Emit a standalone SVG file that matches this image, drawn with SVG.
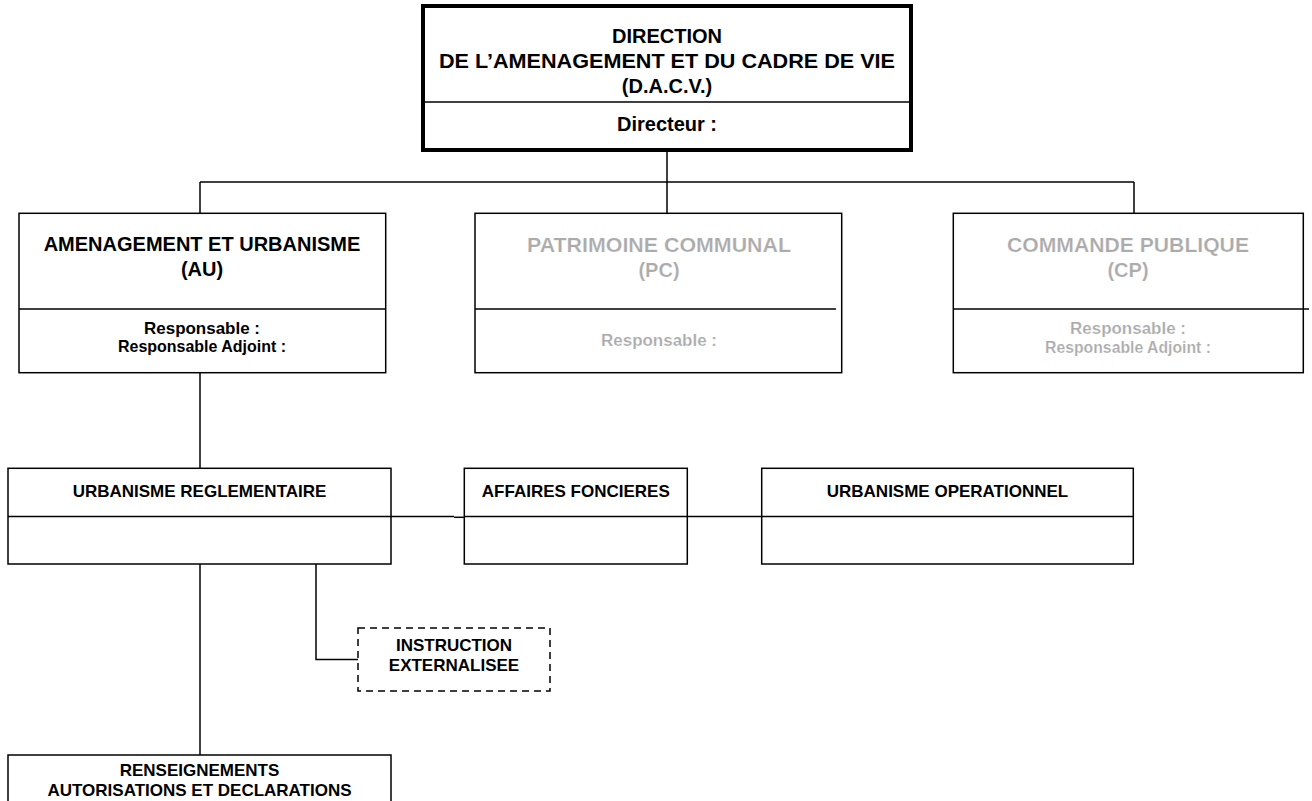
<svg xmlns="http://www.w3.org/2000/svg" width="1312" height="801" viewBox="0 0 1312 801">
<style>
  .box{fill:#fff;stroke:#000;stroke-width:1.5}
  .thick{fill:#fff;stroke:#000;stroke-width:4}
  .dash{fill:#fff;stroke:#000;stroke-width:1.5;stroke-dasharray:7 5}
  .ln{stroke:#000;stroke-width:1.5;fill:none}
  .t{font-family:"Liberation Sans",Arial,sans-serif;font-weight:bold;text-anchor:middle;fill:#000}
  .big{font-size:20px}
  .sm{font-size:16.5px}
  .mid{font-size:17px}
  .grey{fill:#ababab;stroke:#fff;stroke-width:0.2}
</style>
<rect width="1312" height="801" fill="#fff"/>
<g id="connectors">
  <line class="ln" x1="667" y1="150" x2="667" y2="213"/>
  <line class="ln" x1="200" y1="182" x2="1134" y2="182"/>
  <line class="ln" x1="200" y1="182" x2="200" y2="213"/>
  <line class="ln" x1="1134" y1="182" x2="1134" y2="213"/>
  <line class="ln" x1="200" y1="373" x2="200" y2="468"/>
  <line class="ln" x1="391" y1="516.5" x2="454" y2="516.5"/>
  <line class="ln" x1="454" y1="517.3" x2="464" y2="517.3"/>
  <line class="ln" x1="687" y1="516.5" x2="762" y2="516.5"/>
  <line class="ln" x1="200" y1="564" x2="200" y2="755"/>
  <polyline class="ln" points="316,564 316,659.5 358,659.5"/>
</g>
<g id="dacv">
  <rect class="thick" x="423" y="6" width="488" height="144"/>
  <line class="ln" x1="423" y1="102" x2="911" y2="102"/>
  <text class="t big" x="667" y="43">DIRECTION</text>
  <text class="t big" x="667" y="68" textLength="456" lengthAdjust="spacingAndGlyphs">DE L’AMENAGEMENT ET DU CADRE DE VIE</text>
  <text class="t big" x="667" y="93">(D.A.C.V.)</text>
  <text class="t big" x="667" y="130.5">Directeur :</text>
</g>
<g id="au">
  <rect class="box" x="19" y="213.3" width="366.7" height="159.4"/>
  <line class="ln" x1="19" y1="309" x2="385.7" y2="309"/>
  <text class="t big" x="202" y="250.5">AMENAGEMENT ET URBANISME</text>
  <text class="t big" x="202" y="276">(AU)</text>
  <text class="t sm" x="202" y="333.5" textLength="116" lengthAdjust="spacingAndGlyphs">Responsable :</text>
  <text class="t sm" x="202" y="351.5" textLength="168" lengthAdjust="spacingAndGlyphs">Responsable Adjoint :</text>
</g>
<g id="pc">
  <rect class="box" x="475" y="213.3" width="366.7" height="159.4"/>
  <line class="ln" x1="475" y1="309" x2="836" y2="309"/>
  <text class="t big grey" x="659" y="252" textLength="264" lengthAdjust="spacingAndGlyphs">PATRIMOINE COMMUNAL</text>
  <text class="t big grey" x="659" y="277">(PC)</text>
  <text class="t sm grey" x="659" y="346" textLength="116" lengthAdjust="spacingAndGlyphs">Responsable :</text>
</g>
<g id="cp">
  <rect class="box" x="953.3" y="213.3" width="350" height="159.4"/>
  <line class="ln" x1="953.3" y1="309" x2="1309" y2="309"/>
  <text class="t big grey" x="1128" y="252" textLength="242" lengthAdjust="spacingAndGlyphs">COMMANDE PUBLIQUE</text>
  <text class="t big grey" x="1128" y="277">(CP)</text>
  <text class="t sm grey" x="1128" y="333.5" textLength="116" lengthAdjust="spacingAndGlyphs">Responsable :</text>
  <text class="t sm grey" x="1128" y="352.5" textLength="166" lengthAdjust="spacingAndGlyphs">Responsable Adjoint :</text>
</g>
<g id="ur">
  <rect class="box" x="8" y="468.3" width="383" height="95.7"/>
  <line class="ln" x1="8" y1="516.5" x2="391" y2="516.5"/>
  <text class="t mid" x="199.5" y="497">URBANISME REGLEMENTAIRE</text>
</g>
<g id="af">
  <rect class="box" x="464.3" y="468.3" width="223" height="95.7"/>
  <line class="ln" x1="464.3" y1="516.5" x2="687.3" y2="516.5"/>
  <text class="t mid" x="575.8" y="497">AFFAIRES FONCIERES</text>
</g>
<g id="uo">
  <rect class="box" x="761.7" y="468.3" width="371.6" height="95.7"/>
  <line class="ln" x1="761.7" y1="516.5" x2="1133.3" y2="516.5"/>
  <text class="t mid" x="947.5" y="497">URBANISME OPERATIONNEL</text>
</g>
<g id="ie">
  <rect class="dash" x="358" y="628" width="192" height="63"/>
  <text class="t mid" x="454" y="651">INSTRUCTION</text>
  <text class="t mid" x="454" y="671">EXTERNALISEE</text>
</g>
<g id="rad">
  <rect class="box" x="8" y="755" width="383" height="60"/>
  <text class="t mid" x="199.5" y="775.5">RENSEIGNEMENTS</text>
  <text class="t mid" x="199.5" y="795.5">AUTORISATIONS ET DECLARATIONS</text>
</g>
</svg>
